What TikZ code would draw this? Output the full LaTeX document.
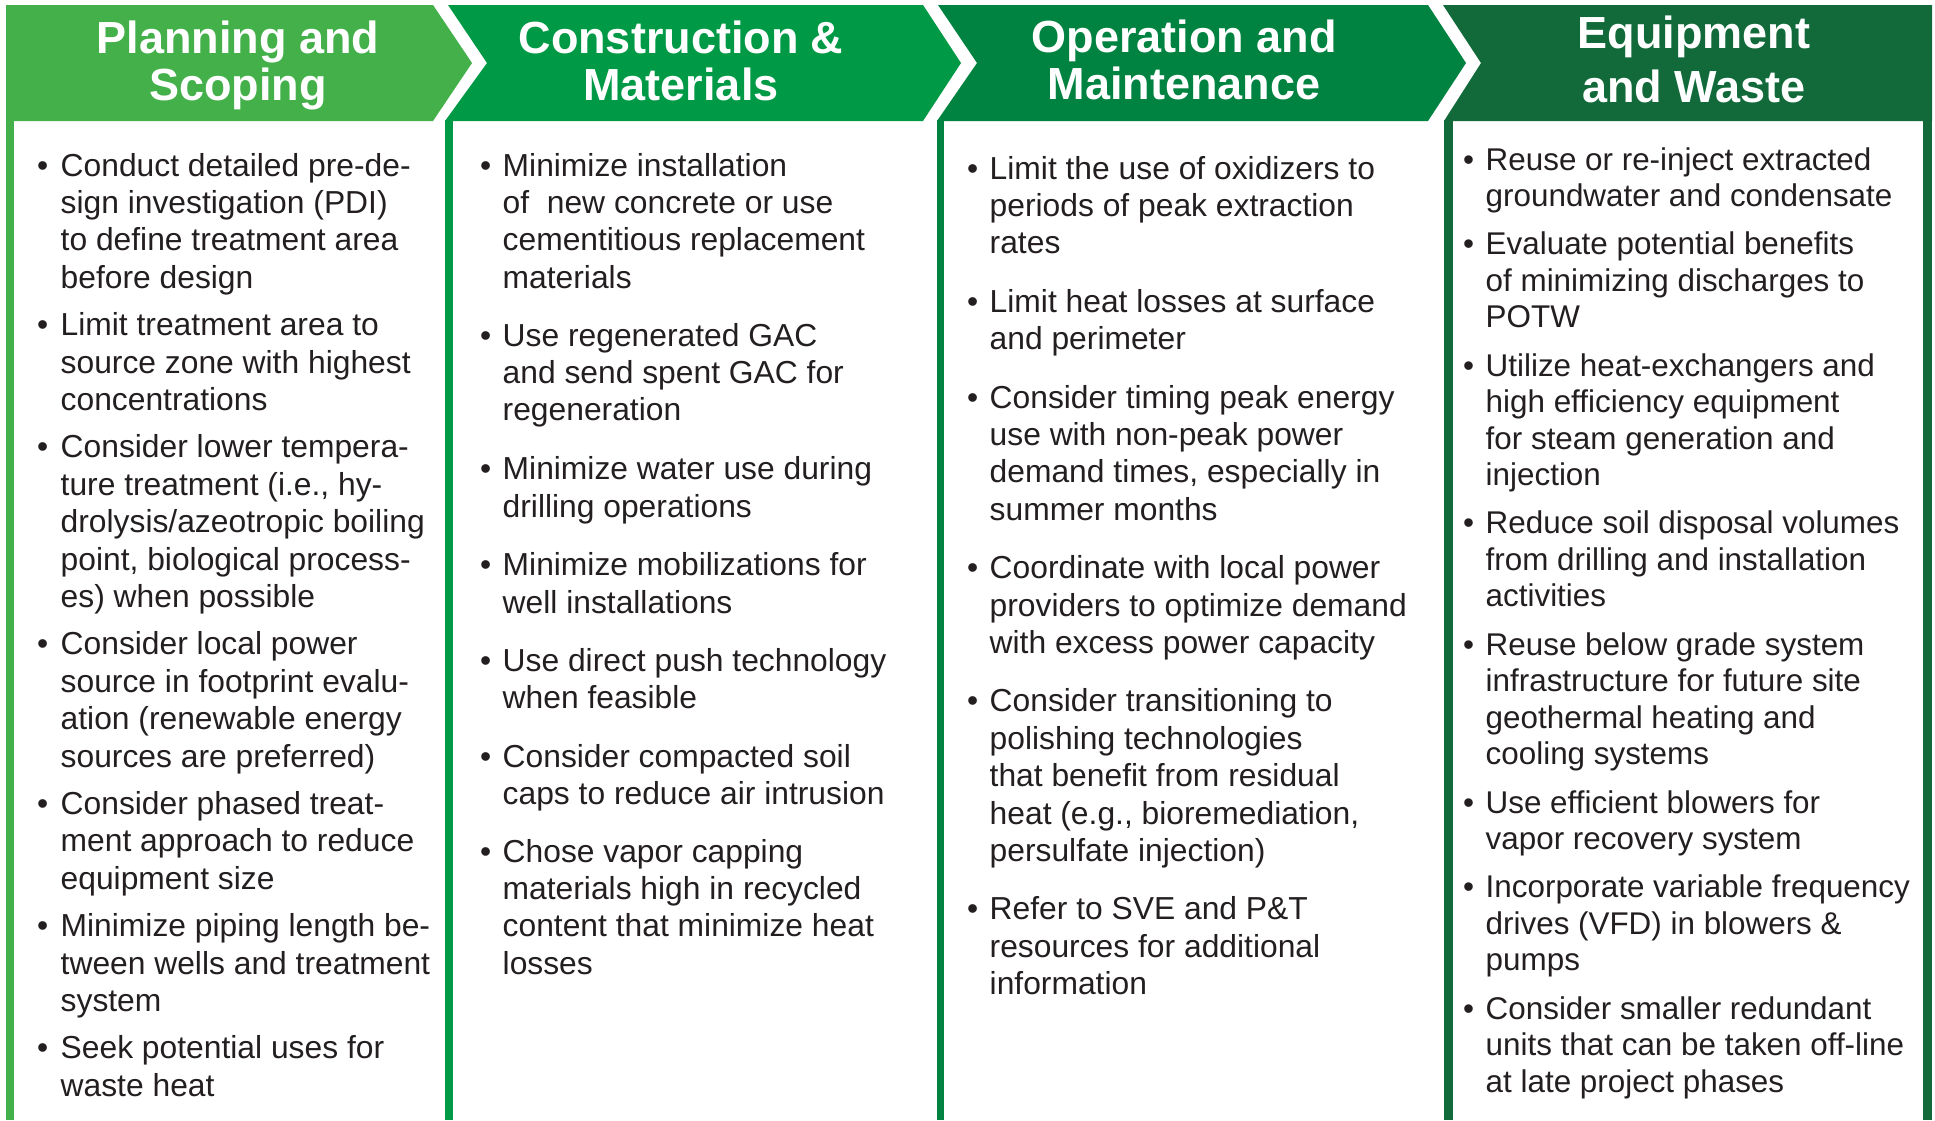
\documentclass[tikz,border=0pt]{standalone}
\usepackage{fontspec}
\setmainfont{Liberation Sans}
\definecolor{gA}{RGB}{67,176,74}
\definecolor{gB}{RGB}{0,154,70}
\definecolor{gC}{RGB}{0,130,64}
\definecolor{gD}{RGB}{18,106,58}
\definecolor{ink}{RGB}{35,31,32}
\newcommand\bfa{\fontsize{31.8}{37.4}\selectfont}
\newcommand\bfb{\fontsize{31.4}{36.5}\selectfont}
\newcommand\hfa{\fontsize{45}{47}\selectfont\bfseries}
\newcommand\hfb{\fontsize{45}{54}\selectfont\bfseries}
\newcommand\bitem[6]{%
  \node[bul] (#1b) at (#2,#4) {#6{}•};
  \node[txt] (#1) at (#3,#4) {\parbox[t]{470pt}{\raggedright\frenchspacing#6#5}};}
\begin{document}
\begin{tikzpicture}[x=1pt,y=-1pt,
  bul/.style={anchor=base west,inner sep=0pt,text=ink},
  txt/.style={anchor=base west,inner sep=0pt,text=ink},
  htxt/.style={anchor=base,inner sep=0pt,text=white}]
\useasboundingbox (0,0) rectangle (1935,1120);
\fill[white] (0,0) rectangle (1935,1120);
% headers
\fill[gA] (6,5) -- (433,5) -- (472,63) -- (433,121) -- (6,121) -- cycle;
\fill[gB] (448,5) -- (923,5) -- (961,63) -- (923,121) -- (445,121) -- (487,63) -- cycle;
\fill[gC] (938,5) -- (1428,5) -- (1466,63) -- (1428,121) -- (937,121) -- (977,63) -- cycle;
\fill[gD] (1443,5) -- (1932,5) -- (1932,121) -- (1444,121) -- (1481,63) -- cycle;
% column borders
\fill[gA] (6,120) rectangle (14,1120);
\fill[gB] (445,120) rectangle (453,1120);
\fill[gC] (937,120) rectangle (944,1120);
\fill[gD] (1444,120) rectangle (1453,1120);
\fill[gD] (1923,120) rectangle (1932,1120);
% header texts
\node[htxt] (h1) at (238,53) {\parbox[t]{420pt}{\centering\hfa Planning and\\Scoping}};
\node[htxt] (h2) at (681,53) {\parbox[t]{420pt}{\centering\hfa Construction \&\\Materials}};
\node[htxt] (h3) at (1184,52) {\parbox[t]{420pt}{\centering\hfa Operation and\\Maintenance}};
\node[htxt] (h4) at (1694,48) {\parbox[t]{420pt}{\centering\hfb Equipment\\and Waste}};
% column 1
\bitem{a1}{37}{60.5}{176}{Conduct detailed pre-de-\\sign investigation (PDI)\\to define treatment area\\before design}{\bfa}
\bitem{a2}{37}{60.5}{335.6}{Limit treatment area to\\source zone with highest\\concentrations}{\bfa}
\bitem{a3}{37}{60.5}{457.8}{Consider lower tempera-\\ture treatment (i.e., hy-\\drolysis/azeotropic boiling\\point, biological process-\\es) when possible}{\bfa}
\bitem{a4}{37}{60.5}{654.8}{Consider local power\\source in footprint evalu-\\ation (renewable energy\\sources are preferred)}{\bfa}
\bitem{a5}{37}{60.5}{814.4}{Consider phased treat-\\ment approach to reduce\\equipment size}{\bfa}
\bitem{a6}{37}{60.5}{936.6}{Minimize piping length be-\\tween wells and treatment\\system}{\bfa}
\bitem{a7}{37}{60.5}{1058.8}{Seek potential uses for\\waste heat}{\bfa}
% column 2
\bitem{b1}{480}{502.5}{176}{Minimize installation\\of\ \ new concrete or use\\cementitious replacement\\materials}{\bfa}
\bitem{b2}{480}{502.5}{346.1}{Use regenerated GAC\\and send spent GAC for\\regeneration}{\bfa}
\bitem{b3}{480}{502.5}{479.8}{Minimize water use during\\drilling operations}{\bfa}
\bitem{b4}{480}{502.5}{575.6}{Minimize mobilizations for\\well installations}{\bfa}
\bitem{b5}{480}{502.5}{671.4}{Use direct push technology\\when feasible}{\bfa}
\bitem{b6}{480}{502.5}{767.2}{Consider compacted soil\\caps to reduce air intrusion}{\bfa}
\bitem{b7}{480}{502.5}{862}{Chose vapor capping\\materials high in recycled\\content that minimize heat\\losses}{\bfa}
% column 3
\bitem{c1}{967}{989.5}{179}{Limit the use of oxidizers to\\periods of peak extraction\\rates}{\bfa}
\bitem{c2}{967}{989.5}{312.2}{Limit heat losses at surface\\and perimeter}{\bfa}
\bitem{c3}{967}{989.5}{408}{Consider timing peak energy\\use with non-peak power\\demand times, especially in\\summer months}{\bfa}
\bitem{c4}{967}{989.5}{578.6}{Coordinate with local power\\providers to optimize demand\\with excess power capacity}{\bfa}
\bitem{c5}{967}{989.5}{711.8}{Consider transitioning to\\polishing technologies\\that benefit from residual\\heat (e.g., bioremediation,\\persulfate injection)}{\bfa}
\bitem{c6}{967}{989.5}{919.8}{Refer to SVE and P\&T\\resources for additional\\information}{\bfa}
% column 4
\bitem{d1}{1463}{1485.5}{170}{Reuse or re-inject extracted\\groundwater and condensate}{\bfb}
\bitem{d2}{1463}{1485.5}{254.8}{Evaluate potential benefits\\of minimizing discharges to\\POTW}{\bfb}
\bitem{d3}{1463}{1485.5}{376.1}{Utilize heat-exchangers and\\high efficiency equipment\\for steam generation and\\injection}{\bfb}
\bitem{d4}{1463}{1485.5}{533.9}{Reduce soil disposal volumes\\from drilling and installation\\activities}{\bfb}
\bitem{d5}{1463}{1485.5}{655.2}{Reuse below grade system\\infrastructure for future site\\geothermal heating and\\cooling systems}{\bfb}
\bitem{d6}{1463}{1485.5}{813}{Use efficient blowers for\\vapor recovery system}{\bfb}
\bitem{d7}{1463}{1485.5}{897.8}{Incorporate variable frequency\\drives (VFD) in blowers \&\\pumps}{\bfb}
\bitem{d8}{1463}{1485.5}{1019.1}{Consider smaller redundant\\units that can be taken off-line\\at late project phases}{\bfb}
\end{tikzpicture}
\end{document}
